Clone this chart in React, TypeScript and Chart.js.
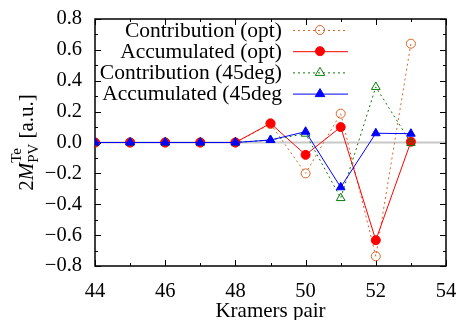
import React, { useEffect, useRef } from "react";
import { Chart, registerables } from "chart.js";

Chart.register(...registerables);

const pairs = [44, 45, 46, 47, 48, 49, 50, 51, 52, 53];
const contribOpt = [0, 0, 0, 0, 0, 0.12, -0.2, 0.187, -0.737, 0.64];
const accumOpt = [0, 0, 0, 0, 0, 0.124, -0.08, 0.1, -0.633, 0.005];
const contrib45 = [0, 0, 0, 0, 0, 0.016, 0.057, -0.36, 0.36, -0.003];
const accum45 = [0, 0, 0, 0, 0, 0.016, 0.07, -0.29, 0.06, 0.057];
const legendLabels = [
  "Contribution (opt)",
  "Accumulated (opt)",
  "Contribution (45deg)",
  "Accumulated (45deg",
];
const xTickValues = [44, 46, 48, 50, 52, 54];

const ORANGE = "#d9652a";
const RED = "#ff0000";
const GREEN = "#0a7a0a";
const BLUE = "#0000ff";
const FONT = "'Liberation Serif', 'Times New Roman', serif";

const toPts = (ys: number[]) => pairs.map((x, i) => ({ x, y: ys[i] }));

function drawMarker(ctx: CanvasRenderingContext2D, kind: string, x: number, y: number, color: string) {
  ctx.save();
  ctx.strokeStyle = color;
  ctx.fillStyle = color;
  ctx.lineWidth = 1;
  ctx.setLineDash([]);
  ctx.beginPath();
  if (kind === "circleOpen" || kind === "circleFill") {
    ctx.arc(x, y, 4.5, 0, Math.PI * 2);
  } else {
    const r = 5;
    ctx.moveTo(x, y - r);
    ctx.lineTo(x + r * 0.95, y + r * 0.6);
    ctx.lineTo(x - r * 0.95, y + r * 0.6);
    ctx.closePath();
  }
  if (kind.endsWith("Fill")) ctx.fill();
  ctx.stroke();
  ctx.restore();
}

const framePlugin = {
  id: "frame",
  beforeDatasetsDraw(chart: any) {
    const { ctx, chartArea: a, scales } = chart;
    const xs = scales.x;
    const ys = scales.y;
    ctx.save();
    const y0 = ys.getPixelForValue(0);
    ctx.strokeStyle = "#c8c8c8";
    ctx.lineWidth = 2;
    ctx.beginPath();
    ctx.moveTo(a.left, y0);
    ctx.lineTo(a.right, y0);
    ctx.stroke();
    ctx.strokeStyle = "#000";
    ctx.lineWidth = 1.5;
    ctx.strokeRect(a.left, a.top, a.right - a.left, a.bottom - a.top);
    ctx.lineWidth = 1;
    ctx.beginPath();
    for (let v = 44; v <= 54; v += 1) {
      const px = Math.round(xs.getPixelForValue(v)) + 0.5;
      const len = v % 2 === 0 ? 6 : 3;
      ctx.moveTo(px, a.bottom);
      ctx.lineTo(px, a.bottom - len);
      ctx.moveTo(px, a.top);
      ctx.lineTo(px, a.top + len);
    }
    for (let i = -8; i <= 8; i++) {
      const py = Math.round(ys.getPixelForValue(i / 10)) + 0.5;
      const len = i % 2 === 0 ? 6 : 3;
      ctx.moveTo(a.left, py);
      ctx.lineTo(a.left + len, py);
      ctx.moveTo(a.right, py);
      ctx.lineTo(a.right - len, py);
    }
    ctx.stroke();
    ctx.restore();
  },
  afterDraw(chart: any) {
    const { ctx, chartArea: a } = chart;
    ctx.save();
    const kinds = ["circleOpen", "circleFill", "triOpen", "triFill"];
    const colors = [ORANGE, RED, GREEN, BLUE];
    const dashes = [[2, 3], [], [2, 3], []];
    ctx.font = `21.5px ${FONT}`;
    ctx.textAlign = "right";
    ctx.textBaseline = "middle";
    for (let i = 0; i < 4; i++) {
      const y = 30 + i * 21.2;
      ctx.fillStyle = "#000";
      ctx.fillText(legendLabels[i], 282, y + 1);
      ctx.strokeStyle = colors[i];
      ctx.lineWidth = 1;
      ctx.setLineDash(dashes[i]);
      ctx.beginPath();
      ctx.moveTo(293, y + 0.5);
      ctx.lineTo(348, y + 0.5);
      ctx.stroke();
      ctx.setLineDash([]);
      drawMarker(ctx, kinds[i], 320, y, colors[i]);
    }
    ctx.fillStyle = "#000";
    ctx.textAlign = "center";
    ctx.textBaseline = "alphabetic";
    ctx.font = `21px ${FONT}`;
    ctx.fillText("Kramers pair", (a.left + a.right) / 2, 317);
    ctx.translate(33, (a.top + a.bottom) / 2);
    ctx.rotate(-Math.PI / 2);
    ctx.textAlign = "left";
    const f1 = `21px ${FONT}`;
    const fi = `italic 21px ${FONT}`;
    const fs = `15px ${FONT}`;
    ctx.font = f1; const w2 = ctx.measureText("2").width;
    ctx.font = fi; const wM = ctx.measureText("M").width;
    ctx.font = fs; const wPV = ctx.measureText("PV").width; const wTe = ctx.measureText("Te").width;
    ctx.font = f1; const wRest = ctx.measureText(" [a.u.]").width;
    const total = w2 + wM + Math.max(wPV, wTe) + wRest;
    let x = -total / 2;
    ctx.font = f1; ctx.fillText("2", x, 0); x += w2;
    ctx.font = fi; ctx.fillText("M", x, 0); x += wM;
    ctx.font = fs; ctx.fillText("PV", x, 5); ctx.fillText("Te", x, -12); x += Math.max(wPV, wTe);
    ctx.font = f1; ctx.fillText(" [a.u.]", x, 0);
    ctx.restore();
  },
};

export default function App() {
  const ref = useRef<HTMLCanvasElement>(null);
  useEffect(() => {
    if (!ref.current) return;
    const chart = new Chart(ref.current, {
      type: "line",
      data: {
        datasets: [
          {
            label: legendLabels[0],
            data: toPts(contribOpt),
            borderColor: ORANGE,
            borderWidth: 1,
            borderDash: [2, 3],
            pointStyle: "circle",
            pointRadius: 4.5,
            pointBorderWidth: 1,
            pointBorderColor: ORANGE,
            pointBackgroundColor: "rgba(0,0,0,0)",
            order: 4,
          },
          {
            label: legendLabels[1],
            data: toPts(accumOpt),
            borderColor: RED,
            borderWidth: 1,
            pointStyle: "circle",
            pointRadius: 4.5,
            pointBorderWidth: 1,
            pointBorderColor: RED,
            pointBackgroundColor: RED,
            order: 3,
          },
          {
            label: legendLabels[2],
            data: toPts(contrib45),
            borderColor: GREEN,
            borderWidth: 1,
            borderDash: [2, 3],
            pointStyle: "triangle",
            pointRadius: 5,
            pointBorderWidth: 1,
            pointBorderColor: GREEN,
            pointBackgroundColor: "rgba(0,0,0,0)",
            order: 2,
          },
          {
            label: legendLabels[3],
            data: toPts(accum45),
            borderColor: BLUE,
            borderWidth: 1,
            pointStyle: "triangle",
            pointRadius: 5,
            pointBorderWidth: 1,
            pointBorderColor: BLUE,
            pointBackgroundColor: BLUE,
            order: 1,
          },
        ],
      },
      options: {
        responsive: false,
        animation: false,
        devicePixelRatio: 1,
        layout: { padding: { top: 19, right: 12, left: 0, bottom: 0 } },
        plugins: { legend: { display: false }, tooltip: { enabled: false } },
        elements: { line: { tension: 0 } },
        scales: {
          x: {
            type: "linear",
            min: 44,
            max: 54,
            afterFit: (s: any) => {
              s.height = 54;
              s.paddingLeft = 0;
              s.paddingRight = 0;
            },
            afterBuildTicks: (s: any) => { s.ticks = xTickValues.map((v) => ({ value: v })); },
            grid: { display: false, drawTicks: false },
            border: { display: false },
            ticks: {
              padding: 13,
              color: "#000",
              font: { family: FONT, size: 20.5 },
              maxRotation: 0,
              autoSkip: false,
            },
          },
          y: {
            type: "linear",
            min: -0.8,
            max: 0.8,
            afterFit: (s: any) => {
              s.width = 95;
              s.paddingTop = 0;
              s.paddingBottom = 0;
            },
            grid: { display: false, drawTicks: false },
            border: { display: false },
            ticks: {
              stepSize: 0.2,
              padding: 13,
              color: "#000",
              font: { family: FONT, size: 20.5 },
              callback: (v: any) => {
                const n = Math.round(Number(v) * 10) / 10;
                const s = Math.abs(n).toFixed(1);
                return n < 0 ? "\u2212" + s : s;
              },
            },
          },
        },
      },
      plugins: [framePlugin],
    } as any);
    return () => chart.destroy();
  }, []);
  return (
    <div style={{ position: "absolute", left: 0, top: 0, width: 458, height: 320, background: "#fff" }}>
      <canvas ref={ref} width={458} height={320} />
    </div>
  );
}
